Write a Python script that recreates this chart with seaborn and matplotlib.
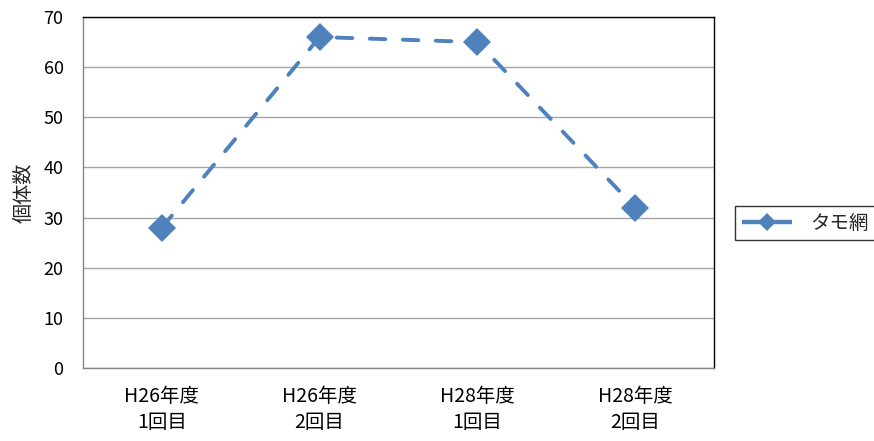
import matplotlib
matplotlib.use("Agg")
import matplotlib.pyplot as plt
from matplotlib.lines import Line2D
import seaborn as sns
import pandas as pd

categories = ["H26年度\n1回目", "H26年度\n2回目", "H28年度\n1回目", "H28年度\n2回目"]
counts = [28, 66, 65, 32]
series_name = "タモ網"

df = pd.DataFrame({"survey": categories, "count": counts, "gear": series_name})

sns.set_style("white")
plt.rcParams["font.family"] = ["Noto Sans CJK JP", "DejaVu Sans"]

fig = plt.figure(figsize=(8.74, 4.41), dpi=100)
ax = fig.add_axes([83 / 874, 1 - 368 / 441, (714 - 83) / 874, (368 - 17) / 441])

blue = "#4F81BD"
sns.lineplot(data=df, x="survey", y="count", hue="gear", palette=[blue],
             marker="D", markersize=14, markeredgewidth=0,
             linewidth=2.8, sort=False, ax=ax)
line = ax.lines[0]
line.set_dashes((4, 4.5))
line.set_dash_capstyle("round")

ax.set_xlim(-0.5, len(categories) - 0.5)
ax.set_ylim(0, 70)
ax.set_yticks(range(0, 71, 10))
ax.yaxis.grid(True, color="#A6A6A6", linewidth=1.0)
ax.set_axisbelow(True)
ax.tick_params(axis="y", length=0, labelsize=13, colors="#000000", pad=14)
ax.tick_params(axis="x", length=0, labelsize=14, colors="#000000", pad=13)
for lbl in ax.get_xticklabels():
    lbl.set_linespacing(1.3)

ax.set_xlabel("")
ax.set_ylabel("個体数", fontsize=14.5)
ax.yaxis.set_label_coords(-48 / 631, 0.5)

for side in ["top", "right"]:
    ax.spines[side].set_color("#000000")
    ax.spines[side].set_linewidth(1.0)
for side in ["left", "bottom"]:
    ax.spines[side].set_color("#868686")
    ax.spines[side].set_linewidth(1.0)
    ax.spines[side].set_visible(True)

ax.get_legend().remove()
handle = Line2D([], [], color=blue, linewidth=3.2, linestyle="-",
                solid_capstyle="butt", marker="D",
                markersize=9, markeredgewidth=0)
leg = fig.legend(handles=[handle], labels=[series_name],
                 loc="center left", bbox_to_anchor=(735 / 874, 1 - 223 / 441),
                 frameon=True, fancybox=False, edgecolor="#000000",
                 fontsize=14, handlelength=2.6, borderpad=0.35,
                 handletextpad=0.9, borderaxespad=0)
leg.get_frame().set_linewidth(1.0)

fig.savefig("out.png", dpi=100)
